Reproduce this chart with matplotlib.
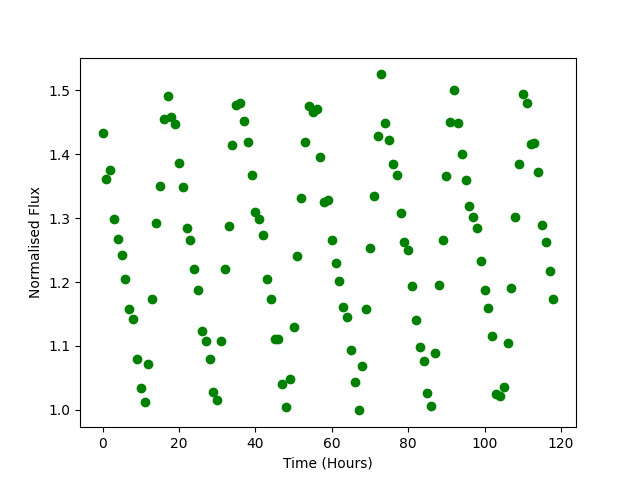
import numpy as np
import matplotlib
matplotlib.use('Agg')
import matplotlib.pyplot as plt

# time in hours
time = np.arange(0, 119)

# normalised flux
flux = [1.433, 1.362, 1.375, 1.298, 1.267, 1.243, 1.204, 1.157, 1.142, 1.080,
        1.034, 1.012, 1.072, 1.173, 1.292, 1.350, 1.455, 1.491, 1.458, 1.448,
        1.386, 1.349, 1.285, 1.266, 1.221, 1.187, 1.124, 1.108, 1.079, 1.028,
        1.015, 1.108, 1.220, 1.287, 1.414, 1.477, 1.480, 1.452, 1.419, 1.367,
        1.309, 1.298, 1.273, 1.204, 1.174, 1.111, 1.110, 1.040, 1.005, 1.048,
        1.130, 1.240, 1.331, 1.419, 1.476, 1.466, 1.471, 1.395, 1.325, 1.329,
        1.265, 1.230, 1.202, 1.161, 1.145, 1.094, 1.044, 0.999, 1.069, 1.157,
        1.254, 1.334, 1.429, 1.525, 1.449, 1.422, 1.384, 1.367, 1.308, 1.263,
        1.250, 1.193, 1.141, 1.098, 1.076, 1.026, 1.006, 1.089, 1.195, 1.266,
        1.366, 1.450, 1.501, 1.449, 1.400, 1.359, 1.319, 1.301, 1.285, 1.233,
        1.187, 1.160, 1.116, 1.025, 1.022, 1.036, 1.105, 1.191, 1.302, 1.384,
        1.494, 1.481, 1.416, 1.417, 1.372, 1.290, 1.262, 1.218, 1.174]

plt.figure(figsize=(6.4, 4.8), dpi=100)
plt.plot(time, flux, 'o', color='green')
plt.xlabel('Time (Hours)')
plt.ylabel('Normalised Flux')
plt.savefig('out.png')
